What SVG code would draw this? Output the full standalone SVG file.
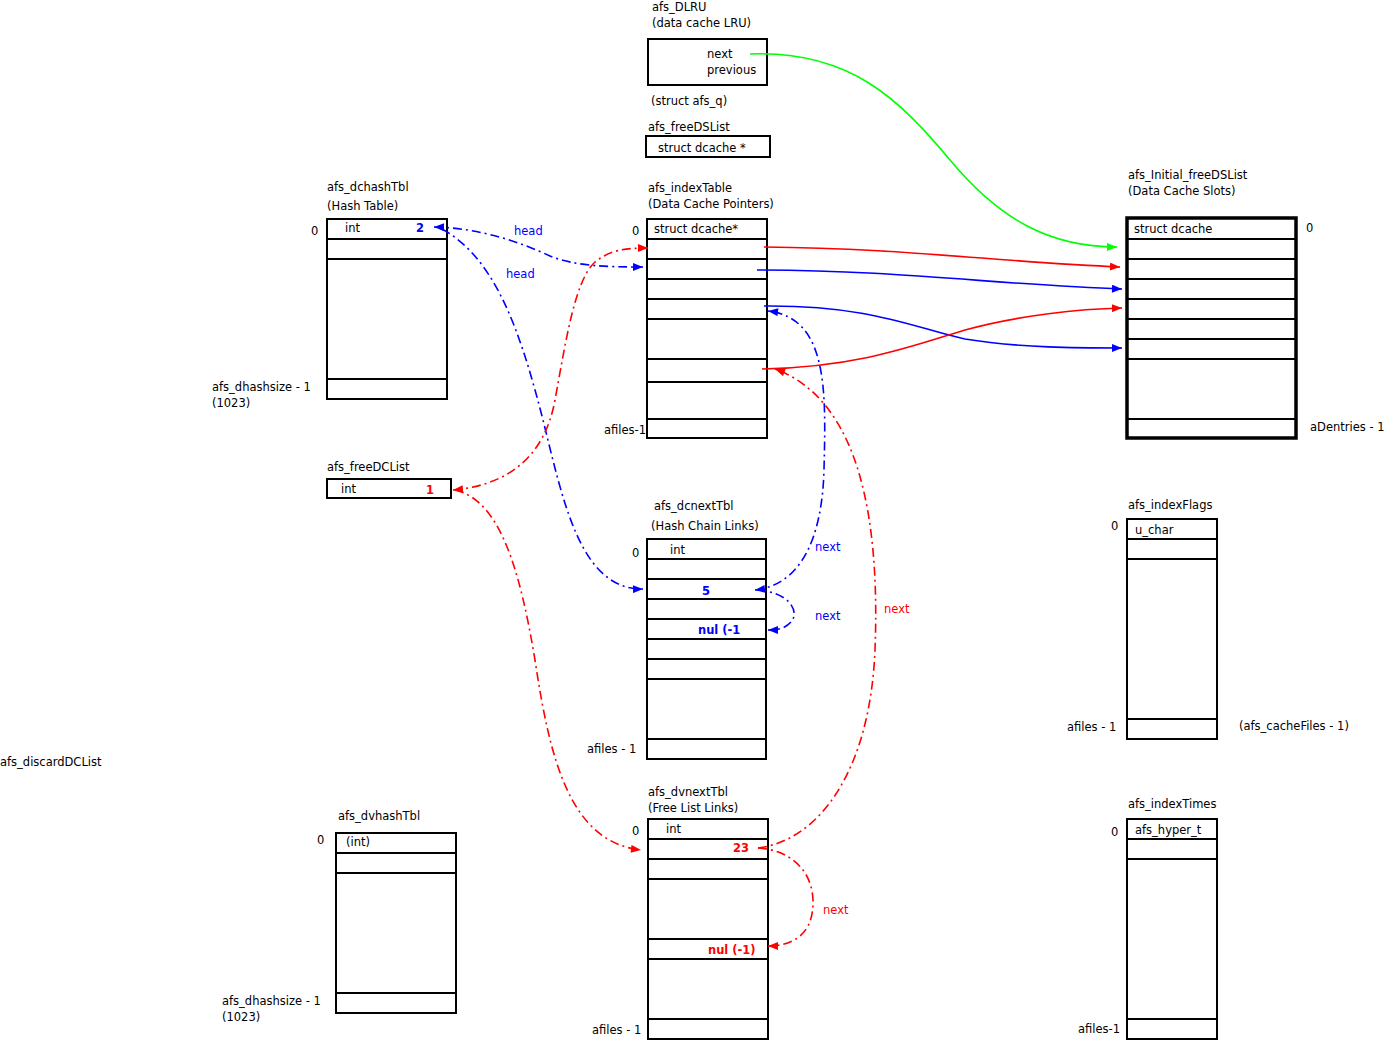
<svg xmlns="http://www.w3.org/2000/svg" width="1387" height="1050" viewBox="0 0 1387 1050">
<style>
  text { font-family: "DejaVu Sans", "Liberation Sans", sans-serif; font-size: 11.5px; fill: #000; }
  .b { fill: #0000ff; }
  .r { fill: #ff0000; }
  .bold { font-weight: bold; }
  .box { fill: #fff; stroke: #000; stroke-width: 2; }
  .thick { fill: #fff; stroke: #000; stroke-width: 3.5; }
  .row { stroke: #000; stroke-width: 2; }
  .line { fill: none; stroke-width: 1.6; }
  .dd { stroke-dasharray: 9 4 2 4; }
  .cb { stroke: #0000ff; }
  .cr { stroke: #ff0000; }
  .cg { stroke: #00ff00; }
</style>
<defs>
  <marker id="ab" viewBox="0 0 10 8" refX="10" refY="4" markerWidth="11" markerHeight="8" markerUnits="userSpaceOnUse" orient="auto-start-reverse"><path d="M0,0 L10,4 L0,8 z" fill="#0000ff"/></marker>
  <marker id="ar" viewBox="0 0 10 8" refX="10" refY="4" markerWidth="11" markerHeight="8" markerUnits="userSpaceOnUse" orient="auto-start-reverse"><path d="M0,0 L10,4 L0,8 z" fill="#ff0000"/></marker>
  <marker id="ag" viewBox="0 0 10 8" refX="10" refY="4" markerWidth="11" markerHeight="8" markerUnits="userSpaceOnUse" orient="auto-start-reverse"><path d="M0,0 L10,4 L0,8 z" fill="#00ff00"/></marker>
</defs>

<rect width="1387" height="1050" fill="#fff"/>

<!-- afs_DLRU -->
<g id="afs_DLRU">
  <text x="652" y="11">afs_DLRU</text>
  <text x="652" y="27">(data cache LRU)</text>
  <rect class="box" x="648" y="39" width="119" height="46"/>
  <text x="707" y="58">next</text>
  <text x="707" y="74">previous</text>
  <text x="651" y="105">(struct afs_q)</text>
</g>

<!-- afs_freeDSList -->
<g id="afs_freeDSList">
  <text x="648" y="131">afs_freeDSList</text>
  <rect class="box" x="646" y="136" width="124" height="21"/>
  <text x="658" y="152">struct dcache *</text>
</g>

<!-- afs_dchashTbl -->
<g id="afs_dchashTbl">
  <text x="327" y="191">afs_dchashTbl</text>
  <text x="327" y="210">(Hash Table)</text>
  <rect class="box" x="327" y="219" width="120" height="180"/>
  <line class="row" x1="327" y1="239" x2="447" y2="239"/>
  <line class="row" x1="327" y1="259" x2="447" y2="259"/>
  <line class="row" x1="327" y1="379" x2="447" y2="379"/>
  <text x="345" y="232">int</text>
  <text x="416" y="232" class="b bold">2</text>
  <text x="311" y="235">0</text>
  <text x="212" y="391">afs_dhashsize - 1</text>
  <text x="212" y="407">(1023)</text>
</g>

<!-- afs_indexTable -->
<g id="afs_indexTable">
  <text x="648" y="192">afs_indexTable</text>
  <text x="648" y="208">(Data Cache Pointers)</text>
  <rect class="box" x="647" y="219" width="120" height="219"/>
  <line class="row" x1="647" y1="239" x2="767" y2="239"/>
  <line class="row" x1="647" y1="259" x2="767" y2="259"/>
  <line class="row" x1="647" y1="279" x2="767" y2="279"/>
  <line class="row" x1="647" y1="299" x2="767" y2="299"/>
  <line class="row" x1="647" y1="319" x2="767" y2="319"/>
  <line class="row" x1="647" y1="359" x2="767" y2="359"/>
  <line class="row" x1="647" y1="382" x2="767" y2="382"/>
  <line class="row" x1="647" y1="419" x2="767" y2="419"/>
  <text x="654" y="233">struct dcache*</text>
  <text x="632" y="235">0</text>
  <text x="604" y="434">afiles-1</text>
</g>

<!-- afs_Initial_freeDSList -->
<g id="afs_Initial_freeDSList">
  <text x="1128" y="179">afs_Initial_freeDSList</text>
  <text x="1128" y="195">(Data Cache Slots)</text>
  <rect class="thick" x="1127" y="218" width="169" height="220"/>
  <line class="row" x1="1127" y1="239" x2="1296" y2="239"/>
  <line class="row" x1="1127" y1="259" x2="1296" y2="259"/>
  <line class="row" x1="1127" y1="279" x2="1296" y2="279"/>
  <line class="row" x1="1127" y1="299" x2="1296" y2="299"/>
  <line class="row" x1="1127" y1="319" x2="1296" y2="319"/>
  <line class="row" x1="1127" y1="339" x2="1296" y2="339"/>
  <line class="row" x1="1127" y1="359" x2="1296" y2="359"/>
  <line class="row" x1="1127" y1="419" x2="1296" y2="419"/>
  <text x="1134" y="233">struct dcache</text>
  <text x="1306" y="232">0</text>
  <text x="1310" y="431">aDentries - 1</text>
</g>

<!-- afs_freeDCList -->
<g id="afs_freeDCList">
  <text x="327" y="471">afs_freeDCList</text>
  <rect class="box" x="327" y="479" width="124" height="19"/>
  <text x="341" y="493">int</text>
  <text x="426" y="494" class="r bold">1</text>
</g>

<!-- afs_dcnextTbl -->
<g id="afs_dcnextTbl">
  <text x="654" y="510">afs_dcnextTbl</text>
  <text x="651" y="530">(Hash Chain Links)</text>
  <rect class="box" x="647" y="539" width="119" height="220"/>
  <line class="row" x1="647" y1="559" x2="766" y2="559"/>
  <line class="row" x1="647" y1="579" x2="766" y2="579"/>
  <line class="row" x1="647" y1="599" x2="766" y2="599"/>
  <line class="row" x1="647" y1="619" x2="766" y2="619"/>
  <line class="row" x1="647" y1="639" x2="766" y2="639"/>
  <line class="row" x1="647" y1="659" x2="766" y2="659"/>
  <line class="row" x1="647" y1="679" x2="766" y2="679"/>
  <line class="row" x1="647" y1="739" x2="766" y2="739"/>
  <text x="670" y="554">int</text>
  <text x="632" y="557">0</text>
  <text x="702" y="595" class="b bold">5</text>
  <text x="698" y="634" class="b bold">nul (-1</text>
  <text x="587" y="753">afiles - 1</text>
</g>

<!-- afs_discardDCList -->
<g id="afs_discardDCList">
  <text x="0" y="766">afs_discardDCList</text>
</g>

<!-- afs_dvhashTbl -->
<g id="afs_dvhashTbl">
  <text x="338" y="820">afs_dvhashTbl</text>
  <rect class="box" x="336" y="833" width="120" height="180"/>
  <line class="row" x1="336" y1="853" x2="456" y2="853"/>
  <line class="row" x1="336" y1="873" x2="456" y2="873"/>
  <line class="row" x1="336" y1="993" x2="456" y2="993"/>
  <text x="346" y="846">(int)</text>
  <text x="317" y="844">0</text>
  <text x="222" y="1005">afs_dhashsize - 1</text>
  <text x="222" y="1021">(1023)</text>
</g>

<!-- afs_dvnextTbl -->
<g id="afs_dvnextTbl">
  <text x="648" y="796">afs_dvnextTbl</text>
  <text x="648" y="812">(Free List Links)</text>
  <rect class="box" x="648" y="819" width="120" height="220"/>
  <line class="row" x1="648" y1="839" x2="768" y2="839"/>
  <line class="row" x1="648" y1="859" x2="768" y2="859"/>
  <line class="row" x1="648" y1="879" x2="768" y2="879"/>
  <line class="row" x1="648" y1="939" x2="768" y2="939"/>
  <line class="row" x1="648" y1="959" x2="768" y2="959"/>
  <line class="row" x1="648" y1="1019" x2="768" y2="1019"/>
  <text x="666" y="833">int</text>
  <text x="632" y="835">0</text>
  <text x="733" y="852" class="r bold">23</text>
  <text x="708" y="954" class="r bold">nul (-1)</text>
  <text x="592" y="1034">afiles - 1</text>
</g>

<!-- afs_indexFlags -->
<g id="afs_indexFlags">
  <text x="1128" y="509">afs_indexFlags</text>
  <rect class="box" x="1127" y="519" width="90" height="220"/>
  <line class="row" x1="1127" y1="539" x2="1217" y2="539"/>
  <line class="row" x1="1127" y1="559" x2="1217" y2="559"/>
  <line class="row" x1="1127" y1="719" x2="1217" y2="719"/>
  <text x="1135" y="534">u_char</text>
  <text x="1111" y="530">0</text>
  <text x="1067" y="731">afiles - 1</text>
  <text x="1239" y="730">(afs_cacheFiles - 1)</text>
</g>

<!-- afs_indexTimes -->
<g id="afs_indexTimes">
  <text x="1128" y="808">afs_indexTimes</text>
  <rect class="box" x="1127" y="819" width="90" height="220"/>
  <line class="row" x1="1127" y1="839" x2="1217" y2="839"/>
  <line class="row" x1="1127" y1="859" x2="1217" y2="859"/>
  <line class="row" x1="1127" y1="1019" x2="1217" y2="1019"/>
  <text x="1135" y="834">afs_hyper_t</text>
  <text x="1111" y="836">0</text>
  <text x="1078" y="1033">afiles-1</text>
</g>

<!-- connectors -->
<g id="connectors">
  <!-- LRU head into the slot array -->
  <path class="line cg" marker-end="url(#ag)" d="M750,54 C850,50 900,100 950,160 C1000,220 1050,247 1117,247"/>
  <!-- index table pointers into the slot array -->
  <path class="line cr" marker-end="url(#ar)" d="M764,247 C900,248 1000,262 1120,267"/>
  <path class="line cb" marker-end="url(#ab)" d="M757,270 C900,270 1000,285 1122,289"/>
  <path class="line cb" marker-end="url(#ab)" d="M764,306 C870,305 915,328 965,339 C1020,348 1080,348 1122,348"/>
  <path class="line cr" marker-end="url(#ar)" d="M762,369 C860,367 915,345 965,330 C1020,315 1080,309 1122,308"/>

  <!-- hash table head links -->
  <path class="line cb dd" marker-start="url(#ab)" marker-end="url(#ab)" d="M434,227 C480,228 520,242 550,256 C575,266 605,267 643,267"/>
  <path class="line cb dd" marker-end="url(#ab)" d="M442,229 C495,258 520,330 543,420 C563,500 580,590 643,589"/>
  <text x="514" y="235" class="b">head</text>
  <text x="506" y="278" class="b">head</text>

  <!-- hash chain next links -->
  <path class="line cb dd" marker-start="url(#ab)" marker-end="url(#ab)" d="M755,590 C800,585 822,540 824,470 C826,390 828,318 768,311"/>
  <path class="line cb dd" marker-end="url(#ab)" d="M757,590 C790,592 800,612 791,622 C785,629 776,630 768,630"/>
  <text x="815" y="551" class="b">next</text>
  <text x="815" y="620" class="b">next</text>

  <!-- free list links -->
  <path class="line cr dd" marker-start="url(#ar)" marker-end="url(#ar)" d="M453,490 C510,485 545,455 555,400 C566,340 575,280 595,262 C610,250 625,248 648,248"/>
  <path class="line cr dd" marker-end="url(#ar)" d="M455,490 C500,500 520,570 535,660 C550,760 570,842 641,850"/>
  <path class="line cr dd" marker-end="url(#ar)" d="M758,848 C820,840 870,770 875,650 C880,520 860,400 775,369"/>
  <path class="line cr dd" marker-end="url(#ar)" d="M758,848 C790,850 812,870 813,900 C814,935 792,946 768,946"/>
  <text x="884" y="613" class="r">next</text>
  <text x="823" y="914" class="r">next</text>
</g>
</svg>
